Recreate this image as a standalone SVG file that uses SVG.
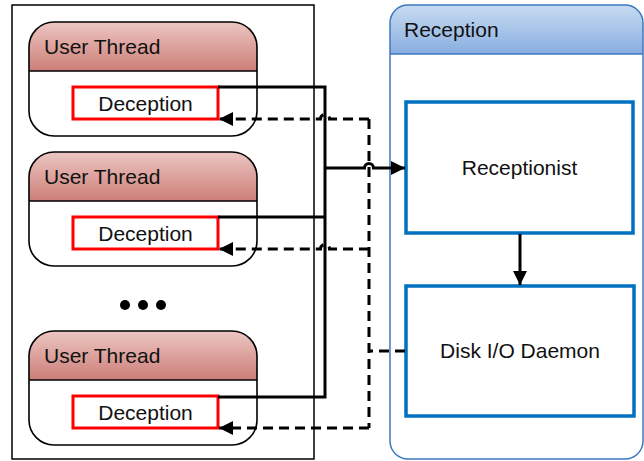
<svg xmlns="http://www.w3.org/2000/svg" width="644" height="461" viewBox="0 0 644 461">
<defs>
<linearGradient id="gRed" x1="0" y1="0" x2="0" y2="1">
<stop offset="0" stop-color="#ecc6c2"/>
<stop offset="1" stop-color="#cd7e78"/>
</linearGradient>
<linearGradient id="gBlue" x1="0" y1="0" x2="0" y2="1">
<stop offset="0" stop-color="#c8dbf1"/>
<stop offset="1" stop-color="#88aee0"/>
</linearGradient>
<marker id="ah" markerUnits="userSpaceOnUse" markerWidth="14" markerHeight="14" viewBox="0 0 12 12" refX="12" refY="6" orient="auto">
<path d="M0,0 L12,6 L0,12 Z" fill="#000"/>
</marker>
</defs>
<style>
text{font-family:"Liberation Sans",Arial,sans-serif;font-size:21px;fill:#111}
.outline{fill:none;stroke:#000;stroke-width:1.6}
.dec{fill:#fff;stroke:#ff0000;stroke-width:3}
.blue{fill:#fff;stroke:#0070c0;stroke-width:3.5}
.solid{fill:none;stroke:#000;stroke-width:3}
.dash{fill:none;stroke:#000;stroke-width:3;stroke-dasharray:10,6}
</style>
<rect x="12" y="5" width="302" height="454" fill="#fff" stroke="#000" stroke-width="1.5"/>
<g id="thread1">
<path d="M29,71 V47 A25,25 0 0 1 54,22 H232 A25,25 0 0 1 257,47 V71 Z" fill="url(#gRed)"/>
<rect x="29" y="22" width="228" height="114" rx="25" class="outline"/>
<line x1="29" y1="71" x2="257" y2="71" stroke="#000" stroke-width="1.6"/>
<text x="44" y="54">User Thread</text>
<rect x="73" y="87" width="145" height="32" class="dec"/>
<text x="145.5" y="111" text-anchor="middle">Deception</text>
</g>
<g id="thread2">
<path d="M29,201 V177 A25,25 0 0 1 54,152 H232 A25,25 0 0 1 257,177 V201 Z" fill="url(#gRed)"/>
<rect x="29" y="152" width="228" height="114" rx="25" class="outline"/>
<line x1="29" y1="201" x2="257" y2="201" stroke="#000" stroke-width="1.6"/>
<text x="44" y="184">User Thread</text>
<rect x="73" y="217" width="145" height="32" class="dec"/>
<text x="145.5" y="241" text-anchor="middle">Deception</text>
</g>
<g id="dots">
<circle cx="125" cy="305" r="5"/>
<circle cx="143" cy="305" r="5"/>
<circle cx="161" cy="305" r="5"/>
</g>
<g id="thread3">
<path d="M29,380 V356 A25,25 0 0 1 54,331 H232 A25,25 0 0 1 257,356 V380 Z" fill="url(#gRed)"/>
<rect x="29" y="331" width="228" height="114" rx="25" class="outline"/>
<line x1="29" y1="380" x2="257" y2="380" stroke="#000" stroke-width="1.6"/>
<text x="44" y="363">User Thread</text>
<rect x="73" y="396" width="145" height="32" class="dec"/>
<text x="145.5" y="420" text-anchor="middle">Deception</text>
</g>
<g id="reception">
<path d="M390,54 V23 A18,18 0 0 1 408,5 H625 A18,18 0 0 1 643,23 V54 Z" fill="url(#gBlue)"/>
<rect x="390" y="5" width="253" height="454" rx="18" fill="none" stroke="#3c78c0" stroke-width="1.5"/>
<line x1="390" y1="54" x2="643" y2="54" stroke="#3c78c0" stroke-width="1.5"/>
<text x="404" y="37">Reception</text>
</g>
<g id="receptionist">
<rect x="406" y="102" width="227" height="131" class="blue"/>
<text x="519.5" y="175" text-anchor="middle">Receptionist</text>
</g>
<g id="daemon">
<rect x="406" y="286" width="228" height="130" class="blue"/>
<text x="520" y="358" text-anchor="middle">Disk I/O Daemon</text>
</g>
<g id="connectors">
<path class="solid" d="M218,87 H325 V397 H218"/>
<path class="solid" d="M218,217 H325"/>
<path class="solid" d="M325,168 H364.5 A4.5,4.5 0 0 1 373.5,168 H405" marker-end="url(#ah)"/>
<path class="solid" d="M520,234 V285" marker-end="url(#ah)"/>
<path class="dash" d="M405,351 H369"/>
<path class="dash" d="M369,119 V428"/>
<path class="dash" d="M369,119 H329.5 A4.5,4.5 0 0 0 320.5,119 H219" marker-end="url(#ah)"/>
<path class="dash" d="M369,249 H329.5 A4.5,4.5 0 0 0 320.5,249 H219" marker-end="url(#ah)"/>
<path class="dash" d="M369,428 H219" marker-end="url(#ah)"/>
</g>
</svg>
